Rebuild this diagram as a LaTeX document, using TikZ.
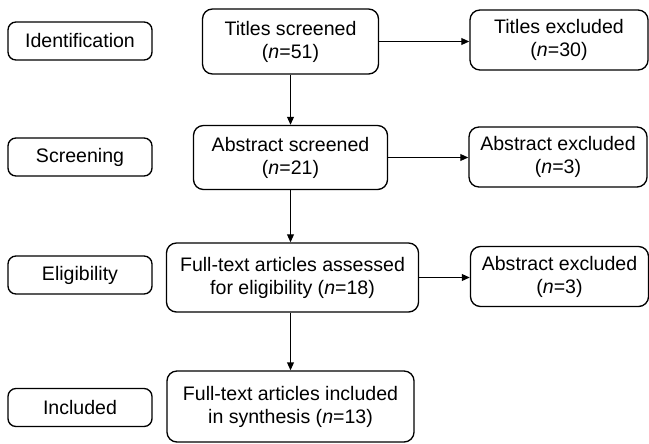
\documentclass[tikz,border=0pt]{standalone}
\usepackage{fontspec}
\setmainfont{Liberation Sans}
\usepackage{tikz}
\usetikzlibrary{shapes,arrows,arrows.meta,positioning,calc}

\begin{document}
\begin{tikzpicture}[x=0.025cm,y=-0.025cm,
    font=\fontsize{13.9}{16.4}\selectfont,
    box/.style={draw,line width=0.95pt,rounded corners=0.25cm,align=center,inner sep=0pt},
    stagebox/.style={box,rounded corners=0.2cm,minimum width=3.6cm,minimum height=0.95cm},
    exclbox/.style={box,minimum width=4.45cm,minimum height=1.5cm},
    flow/.style={-{Triangle[length=2mm,width=1.7mm]},line width=0.95pt}]
                    \useasboundingbox (0,0) rectangle (649,443);
                    % stages
                    \node[stagebox] (ident) at (80,41) {Identification};
                    \node[stagebox] (screen) at (80,157) {Screening};
                    \node[stagebox] (elig) at (80,275) {Eligibility};
                    \node[stagebox] (incl) at (80,407.5) {Included};
                    % main flow
                    \node[box,minimum width=4.4cm,minimum height=1.625cm] (titles) at (290.5,41.5)
                        {Titles screened\\(\textit{n}=51)};
                    \node[box,minimum width=4.85cm,minimum height=1.6cm] (abstr) at (290.5,157.5)
                        {Abstract screened\\(\textit{n}=21)};
                    \node[box,minimum width=6.3cm,minimum height=1.725cm] (full) at (292.5,277.5)
                        {Full-text articles assessed\\for eligibility (\textit{n}=18)};
                    \node[box,minimum width=6.175cm,minimum height=1.775cm] (synth) at (290.5,406.5)
                        {Full-text articles included\\in synthesis (\textit{n}=13)};
                    % exclusions
                    \node[exclbox] (titlesex) at (559,40) {Titles excluded\\(\textit{n}=30)};
                    \node[exclbox] (abstrex) at (558,157) {Abstract excluded\\(\textit{n}=3)};
                    \node[exclbox] (fullex) at (559.5,276.5) {Abstract excluded\\(\textit{n}=3)};
                    % arrows
                    \draw[flow] (titles) -- (abstr);
                    \draw[flow] (abstr.south) -- (abstr.south |- full.north);
                    \draw[flow] (full.south -| synth) -- (synth);
                    \draw[flow] (titles.east) -- (titles.east -| titlesex.west);
                    \draw[flow] (abstr.east) -- (abstr.east -| abstrex.west);
                    \draw[flow] (full.east) -- (full.east -| fullex.west);
                \end{tikzpicture}
\end{document}
